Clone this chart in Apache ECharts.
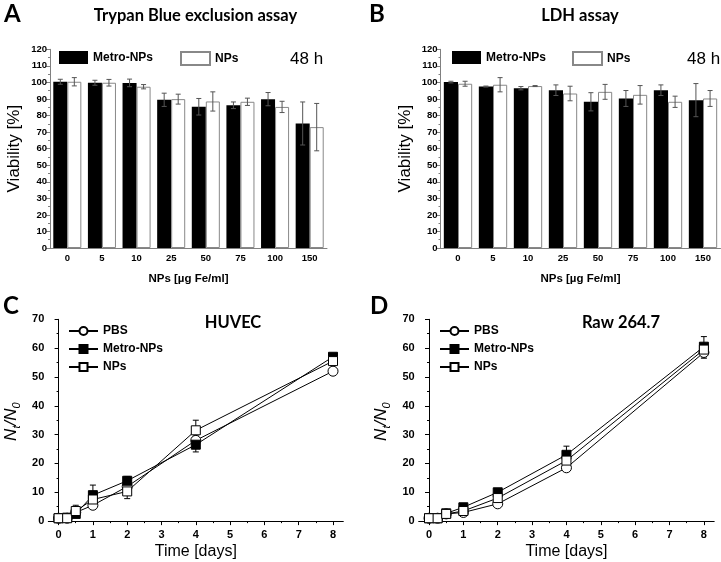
<!DOCTYPE html>
<html><head><meta charset="utf-8">
<script src="https://cdn.jsdelivr.net/npm/echarts@6/dist/echarts.min.js"></script>
<style>html,body{margin:0;padding:0;background:#fff}#c{width:721px;height:562px}</style>
</head><body><div id="c"></div>
<script>
// ---- data ----
const barCats = ['0', '5', '10', '25', '50', '75', '100', '150'];
const trypanMetro    = [100.4, 99.8, 99.7, 89.5, 85.3, 86.2, 89.9, 75.2];
const trypanMetroErr = [1.5, 1.5, 2.3, 4, 5, 2, 4, 13];
const trypanNPs      = [100.4, 99.8, 97.4, 89.9, 88.5, 88.3, 85.2, 73];
const trypanNPsErr   = [2.5, 2, 1.3, 3, 5.8, 2.2, 3.4, 14.3];
const ldhMetro       = [100.2, 97.5, 96.5, 95.3, 88.3, 90.3, 95.3, 89.3];
const ldhMetroErr    = [0.5, 0.3, 1, 3.2, 5.5, 4.8, 3.2, 10];
const ldhNPs         = [99.2, 98.6, 97.8, 93.3, 94.3, 92.5, 88.3, 90.3];
const ldhNPsErr      = [1.5, 4.3, 0.3, 4.4, 4.5, 5.6, 3.4, 4.8];

const days = [0, 0.25, 0.5, 1, 2, 4, 8];
const huvecPBS      = [1, 1, 3, 5.5, 12, 28, 52];
const huvecPBSErr   = [0.3, 0.3, 0.5, 1, 1.2, 1.5, 1];
const huvecMetro    = [1, 1.2, 2.5, 9, 14, 26.5, 57];
const huvecMetroErr = [0.2, 0.5, 1, 3.5, 1.5, 2.5, 1];
const huvecNPs      = [1, 1, 3.5, 7.5, 10.3, 31.5, 55.5];
const huvecNPsErr   = [0.2, 0.3, 2, 1.5, 2.5, 3.5, 1.5];
const rawPBS        = [1, 1, 2.5, 3, 6, 18.5, 58.5];
const rawPBSErr     = [0.2, 0.3, 0.5, 0.5, 1, 1, 2];
const rawMetro      = [1, 1, 2.7, 4.8, 10, 23, 60.5];
const rawMetroErr   = [0.2, 0.3, 0.5, 0.7, 0.8, 3, 3.5];
const rawNPs        = [1, 1, 2.5, 3.5, 8, 21, 59.5];
const rawNPsErr     = [0.2, 0.3, 0.5, 0.8, 1, 1.5, 1.5];

const dayTicks  = [0, 1, 2, 3, 4, 5, 6, 7, 8];
const dayMinor  = [0.5, 1.5, 2.5, 3.5, 4.5, 5.5, 6.5, 7.5];
const nTicks    = [0, 10, 20, 30, 40, 50, 60, 70];
const nMinor    = [5, 15, 25, 35, 45, 55, 65];

// ---- helpers ----
const ARIAL = 'Liberation Sans';
function seg(x1, y1, x2, y2, color) {
  return {type: 'line', shape: {x1, y1, x2, y2}, style: {stroke: color, lineWidth: 1}};
}
function barErrRender(sign) {
  return function (params, api) {
    const i = api.value(0), v = api.value(1), e = api.value(2);
    const band = api.size([1, 0])[0];
    const off = sign * band * 0.2025;
    const p1 = api.coord([i, v + e]);
    const p2 = api.coord([i, v - e]);
    const x = p1[0] + off, c = 2.5, col = '#555';
    return {type: 'group', children: [
      seg(x, p1[1], x, p2[1], col), seg(x - c, p1[1], x + c, p1[1], col), seg(x - c, p2[1], x + c, p2[1], col)
    ]};
  };
}
function lineErrRender(params, api) {
  const d = api.value(0), v = api.value(1), e = api.value(2);
  const p1 = api.coord([d, v + e]);
  const p2 = api.coord([d, v - e]);
  const x = p1[0], c = 3, col = '#000';
  return {type: 'group', children: [
    seg(x, p1[1], x, p2[1], col), seg(x - c, p1[1], x + c, p1[1], col), seg(x - c, p2[1], x + c, p2[1], col)
  ]};
}
function barSeries(g, metro, metroErr, nps, npsErr) {
  return [
    {type: 'bar', name: 'Metro-NPs', xAxisIndex: g, yAxisIndex: g, data: metro, barGap: '0%', barCategoryGap: '19%',
      itemStyle: {color: '#000'}, z: 2},
    {type: 'bar', name: 'NPs', xAxisIndex: g, yAxisIndex: g, data: nps, barGap: '0%', barCategoryGap: '19%',
      itemStyle: {color: '#fff', borderColor: '#888', borderWidth: 1}, z: 2},
    {type: 'custom', name: 'errM' + g, xAxisIndex: g, yAxisIndex: g, renderItem: barErrRender(-1), z: 4,
      data: metro.map((v, i) => [i, v, metroErr[i]])},
    {type: 'custom', name: 'errN' + g, xAxisIndex: g, yAxisIndex: g, renderItem: barErrRender(1), z: 4,
      data: nps.map((v, i) => [i, v, npsErr[i]])}
  ];
}
function lineSeries(ax, pbs, pbsE, metro, metroE, nps, npsE) {
  const mk = (arr) => days.map((d, i) => [d, arr[i]]);
  const mkE = (arr, e) => days.map((d, i) => [d, arr[i], e[i]]);
  const common = {type: 'line', xAxisIndex: ax, yAxisIndex: ax, lineStyle: {color: '#000', width: 1}, z: 5};
  return [
    {type: 'custom', name: 'eP' + ax, xAxisIndex: ax, yAxisIndex: ax, renderItem: lineErrRender, data: mkE(pbs, pbsE), z: 3},
    {type: 'custom', name: 'eM' + ax, xAxisIndex: ax, yAxisIndex: ax, renderItem: lineErrRender, data: mkE(metro, metroE), z: 3},
    {type: 'custom', name: 'eN' + ax, xAxisIndex: ax, yAxisIndex: ax, renderItem: lineErrRender, data: mkE(nps, npsE), z: 3},
    Object.assign({}, common, {name: 'L:PBS', data: mk(pbs), symbol: 'circle', symbolSize: 10,
      itemStyle: {color: '#fff', borderColor: '#000', borderWidth: 1}}),
    Object.assign({}, common, {name: 'L:Metro-NPs', data: mk(metro), symbol: 'rect', symbolSize: 9,
      itemStyle: {color: '#000', borderColor: '#000', borderWidth: 1}}),
    Object.assign({}, common, {name: 'L:NPs', data: mk(nps), symbol: 'rect', symbolSize: 9,
      itemStyle: {color: '#fff', borderColor: '#000', borderWidth: 1}})
  ];
}
function barX(g) {
  return {type: 'category', gridIndex: g, data: barCats,
    axisLine: {show: true, lineStyle: {color: '#808080', width: 1}}, axisTick: {show: false},
    axisLabel: {fontFamily: ARIAL, fontWeight: 'bold', fontSize: 9.5, color: '#000', margin: 5},
    name: 'NPs [\u00b5g Fe/ml]', nameLocation: 'middle', nameGap: 25,
    nameTextStyle: {fontFamily: ARIAL, fontWeight: 'bold', fontSize: 11.5, color: '#000'}};
}
function barY(g) {
  return {type: 'value', gridIndex: g, min: 0, max: 120, interval: 10,
    axisLine: {show: true, lineStyle: {color: '#808080', width: 1}},
    axisTick: {show: true, length: 4, lineStyle: {color: '#808080'}},
    minorTick: {show: true, splitNumber: 2, length: 2, lineStyle: {color: '#808080'}},
    axisLabel: {fontFamily: ARIAL, fontWeight: 'bold', fontSize: 9.5, color: '#000', margin: 3},
    splitLine: {show: false},
    name: 'Viability [%]', nameLocation: 'middle', nameGap: 27, nameRotate: 90,
    nameTextStyle: {fontFamily: ARIAL, fontSize: 17, color: '#000'}};
}
function lineX(g) {
  return [
    {type: 'value', gridIndex: g, min: -0.3, max: 8.3, position: 'bottom',
      axisLine: {show: true, lineStyle: {color: '#000', width: 1}},
      axisTick: {show: true, customValues: dayTicks, length: 4, lineStyle: {color: '#000'}},
      axisLabel: {customValues: dayTicks, fontFamily: ARIAL, fontWeight: 'bold', fontSize: 11, color: '#000', margin: 5},
      splitLine: {show: false},
      name: 'Time [days]', nameLocation: 'middle', nameGap: 20,
      nameTextStyle: {fontFamily: ARIAL, fontSize: 16, color: '#000'}},
    {type: 'value', gridIndex: g, min: -0.3, max: 8.3, position: 'bottom', offset: 0,
      axisLine: {show: false}, axisLabel: {show: false}, splitLine: {show: false},
      axisTick: {show: true, customValues: dayMinor, length: 2, lineStyle: {color: '#000'}}}
  ];
}
function lineY(g) {
  return [
    {type: 'value', gridIndex: g, min: -1, max: 70, position: 'left',
      axisLine: {show: true, lineStyle: {color: '#000', width: 1}},
      axisTick: {show: true, customValues: nTicks, length: 4, lineStyle: {color: '#000'}},
      axisLabel: {customValues: nTicks, fontFamily: ARIAL, fontWeight: 'bold', fontSize: 11, color: '#000', margin: 4},
      splitLine: {show: false},
      name: '{n|N}{s|t}{n|/N}{s|0}', nameLocation: 'middle', nameGap: 26, nameRotate: 90,
      nameTextStyle: {color: '#000', rich: {
        n: {fontFamily: ARIAL, fontStyle: 'italic', fontSize: 17, color: '#000', lineHeight: 22, verticalAlign: 'middle'},
        s: {fontFamily: ARIAL, fontStyle: 'italic', fontSize: 11, color: '#000', lineHeight: 22, verticalAlign: 'bottom', padding: [8, 0, 0, 0]}
      }}},
    {type: 'value', gridIndex: g, min: -1, max: 70, position: 'left', offset: 0,
      axisLine: {show: false}, axisLabel: {show: false}, splitLine: {show: false},
      axisTick: {show: true, customValues: nMinor, length: 2, lineStyle: {color: '#000'}}}
  ];
}
function txt(x, y, text, font, align) {
  return {type: 'text', x, y, style: {text, font, fill: '#000', align: align || 'left', verticalAlign: 'middle'}};
}
const legTxt = {fontFamily: ARIAL, fontWeight: 'bold', fontSize: 12, color: '#000'};
function barLegend(x, y, name) {
  return {left: x, top: y, data: [name], itemWidth: 29, itemHeight: 13, icon: 'rect', itemGap: 0,
    textStyle: legTxt, selectedMode: false, padding: 0};
}
function lineLegend(x, y) {
  return {left: x, top: y, orient: 'vertical', data: ['L:PBS', 'L:Metro-NPs', 'L:NPs'],
    itemWidth: 29, itemHeight: 10, itemGap: 6, textStyle: legTxt, selectedMode: false, padding: 0,
    formatter: (n) => n.replace('L:', '')};
}

const option = {
  animation: false,
  backgroundColor: '#fff',
  grid: [
    {left: 50, top: 49.3, width: 277, height: 198.7},
    {left: 440.5, top: 49.3, width: 280, height: 198.7},
    {left: 48.3, top: 319.3, width: 295, height: 204.7},
    {left: 418.7, top: 319.3, width: 295.5, height: 204.7}
  ],
  xAxis: [barX(0), barX(1)].concat(lineX(2)).concat(lineX(3)),
  yAxis: [barY(0), barY(1)].concat(lineY(2)).concat(lineY(3)),
  legend: [
    barLegend(59, 51, 'Metro-NPs'), barLegend(180, 51, 'NPs'),
    barLegend(452, 51, 'Metro-NPs'), barLegend(572, 51, 'NPs'),
    lineLegend(68, 325), lineLegend(439, 325)
  ],
  graphic: [
    txt(4, 14, 'A', 'bold 24px Lato'),
    txt(195.5, 16, 'Trypan Blue exclusion assay', 'bold 16.5px Lato', 'center'),
    txt(290, 59, '48 h', '17px "Liberation Sans"'),
    txt(369, 14, 'B', 'bold 24px Lato'),
    txt(580, 16, 'LDH assay', 'bold 16.5px Lato', 'center'),
    txt(687, 59, '48 h', '17px "Liberation Sans"'),
    txt(3, 306, 'C', 'bold 24px Lato'),
    txt(233, 322.5, 'HUVEC', 'bold 16.5px Lato', 'center'),
    txt(370, 306, 'D', 'bold 24px Lato'),
    txt(621, 322.5, 'Raw 264.7', 'bold 16.5px Lato', 'center')
  ],
  series: []
    .concat(barSeries(0, trypanMetro, trypanMetroErr, trypanNPs, trypanNPsErr))
    .concat(barSeries(1, ldhMetro, ldhMetroErr, ldhNPs, ldhNPsErr))
    .concat(lineSeries(2, huvecPBS, huvecPBSErr, huvecMetro, huvecMetroErr, huvecNPs, huvecNPsErr))
    .concat(lineSeries(4, rawPBS, rawPBSErr, rawMetro, rawMetroErr, rawNPs, rawNPsErr))
};
const chart = echarts.init(document.getElementById('c'), null, {renderer: 'canvas'});
chart.setOption(option);
</script></body></html>
